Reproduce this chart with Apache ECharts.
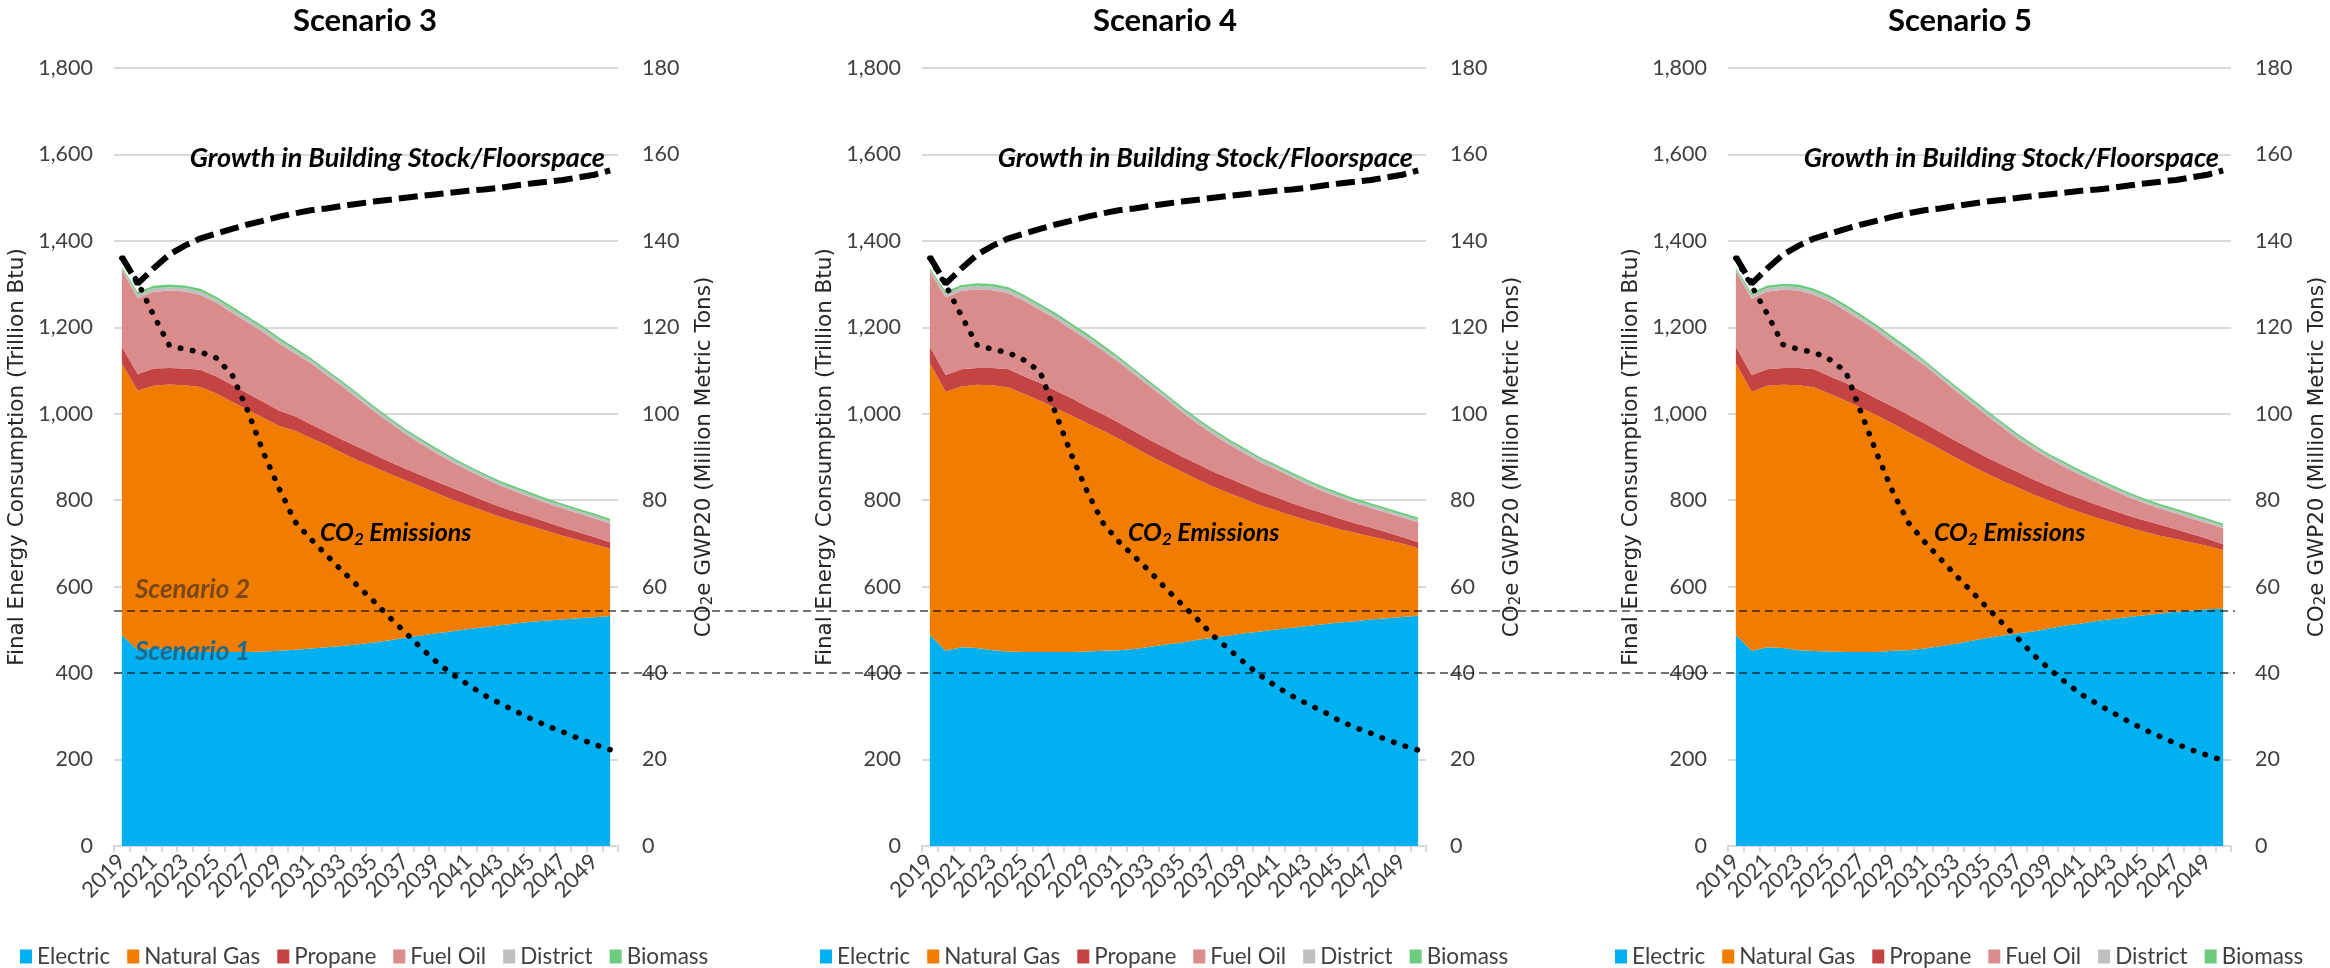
<!DOCTYPE html>
<html>
<head>
<meta charset="utf-8">
<script src="https://cdn.jsdelivr.net/npm/echarts@6/dist/echarts.min.js"></script>
<style>
html,body{margin:0;padding:0;background:#ffffff;}
#c{width:2330px;height:968px;}
</style>
</head>
<body>
<div id="c"></div>
<script>
// ---------- DATA ----------
const years = ['2019','2020','2021','2022','2023','2024','2025','2026','2027','2028','2029','2030','2031','2032','2033','2034','2035','2036','2037','2038','2039','2040','2041','2042','2043','2044','2045','2046','2047','2048','2049','2050'];
const panelTitles = ['Scenario 3', 'Scenario 4', 'Scenario 5'];
const seriesNames = ['Electric', 'Natural Gas', 'Propane', 'Fuel Oil', 'District', 'Biomass'];
const leftAxisTicks = [0, 1800, 200];   // min, max, interval (Trillion Btu)
const rightAxisTicks = [0, 180, 20];    // min, max, interval (Million Metric Tons)
const scenarioLevels = [400, 545];      // Scenario 1, Scenario 2 reference levels
const scenarioLabels = ['Scenario 1', 'Scenario 2'];

// Scenario 3
const electric3   = [488,453,458,455,450,449,449,449,449,450,452,454,457,460,463,467,471,476,482,487,492,497,502,506,511,515,519,522,524,527,529,532];
const naturalGas3 = [629,600,607,613,616,613,598,579,560,540,520,507,487,468,446,425,406,385,364,344,324,304,286,269,251,236,221,207,194,181,169,156];
const propane3    = [38,39,40,38,39,40,39,39,38,37,35,33,32,30,31,31,29,28,27,27,27,27,26,24,23,22,21,20,19,18,17,15];
const fuelOil3    = [178,176,177,179,178,173,171,167,164,161,155,145,141,132,123,112,100,90,80,72,65,59,55,52,49,47,45,44,44,43,43,43];
const district3   = [4,8,8,8,8,8,8,8,8,8,8,8,7,7,7,7,7,7,7,7,7,7,6,6,6,6,6,6,6,6,6,6];
const biomass3    = [3,6,6,6,6,6,6,6,6,6,6,6,5,5,5,5,5,5,5,5,5,5,5,5,5,5,5,5,5,5,5,5];
const co2_3       = [136.0,130.5,122.9,115.9,114.9,114.3,112.9,109.0,100.6,90.9,82.6,75.0,71.0,67.3,63.6,60.1,56.6,52.9,49.4,45.8,42.5,39.7,37.3,34.9,33.0,31.2,29.4,27.8,26.4,24.9,23.5,22.3];

// Scenario 4
const electric4   = [488,452,460,458,453,450,449,449,449,449,450,452,453,456,461,466,471,477,482,487,492,496,501,505,509,513,517,520,524,527,530,533];
const naturalGas4 = [629,599,603,609,613,611,597,581,564,547,528,509,489,466,441,418,395,371,349,329,310,292,275,259,244,230,216,205,192,181,170,156];
const propane4    = [38,39,40,39,40,42,40,41,40,40,38,38,37,37,37,36,35,36,35,35,33,32,31,29,28,27,25,22,21,18,15,14];
const fuelOil4    = [175,179,181,182,180,176,175,169,166,159,155,146,141,132,123,114,103,93,86,78,73,67,64,60,55,50,48,46,45,45,45,46];
const district4   = [4,8,8,8,8,8,8,8,8,8,8,8,7,7,7,7,7,7,7,7,7,7,6,6,6,6,6,6,6,6,6,6];
const biomass4    = [3,6,6,6,6,6,6,6,6,6,6,6,5,5,5,5,5,5,5,5,5,5,5,5,5,5,5,5,5,5,5,5];
const co2_4       = [136.0,129.8,122.7,115.9,114.9,114.1,112.4,109.7,100.0,90.4,81.9,74.7,70.4,66.9,63.4,59.5,55.9,52.4,48.6,45.5,42.3,39.4,36.9,34.7,32.8,31.1,29.0,27.4,26.1,24.6,23.3,22.2];

// Scenario 5
const electric5   = [488,452,460,458,453,451,450,449,449,449,452,453,457,462,468,475,481,487,492,497,504,510,515,521,525,530,534,538,542,545,548,549];
const naturalGas5 = [629,599,605,609,613,610,596,581,564,547,525,504,481,456,430,404,380,357,336,315,294,274,256,238,223,207,193,180,168,157,146,136];
const propane5    = [38,39,38,39,40,42,40,41,40,38,39,40,40,39,39,39,37,37,36,35,33,32,31,30,28,27,26,25,23,20,17,13];
const fuelOil5    = [175,176,180,181,179,172,173,167,162,157,148,141,134,125,115,106,97,86,76,69,63,59,55,51,47,43,40,37,36,36,36,37];
const district5   = [4,8,8,8,8,8,8,8,8,8,8,8,7,7,7,7,7,7,7,7,7,7,6,6,6,6,6,6,6,6,6,6];
const biomass5    = [3,6,6,6,6,6,6,6,6,6,6,6,5,5,5,5,5,5,5,5,5,5,5,5,5,5,5,5,5,5,5,5];
const co2_5       = [136.0,129.6,123.1,116.0,114.9,114.2,112.5,109.7,100.0,90.5,81.8,74.7,70.4,66.5,62.6,58.9,55.1,51.4,47.8,44.0,40.8,37.8,35.0,32.9,30.8,28.8,26.9,25.3,23.7,22.2,21.0,19.8];

// Growth in building stock / floorspace (drawn on the right-hand scale, same in all panels)
const growth = [136.3,130.1,133.6,136.8,138.9,140.6,141.7,142.8,143.8,144.7,145.6,146.4,147.1,147.5,148.1,148.6,149.1,149.5,150.0,150.4,150.8,151.2,151.6,151.9,152.3,152.8,153.3,153.7,154.1,154.7,155.3,156.3];

// ---------- STYLE / LAYOUT ----------
const colors = ['#00B0F0', '#F07D00', '#C44444', '#DA8B8B', '#BFBFBF', '#6DCB7E'];
const panels = [
  {stacks:[electric3,naturalGas3,propane3,fuelOil3,district3,biomass3], co2:co2_3},
  {stacks:[electric4,naturalGas4,propane4,fuelOil4,district4,biomass4], co2:co2_4},
  {stacks:[electric5,naturalGas5,propane5,fuelOil5,district5,biomass5], co2:co2_5}
];
const gridLefts = [114, 922, 1728];
const gridWidth = 504;
const gridTop = 68;
const gridHeight = 778;
const chartCenters = [360, 1160, 1955];
const labelFont = 'Lato';
const labelColor = '#404040';
const nameFont = 'DejaVu Sans';

const grids = [], xAxes = [], yAxes = [], series = [], titles = [], legends = [], graphics = [];

panels.forEach((p, i) => {
  grids.push({left: gridLefts[i], top: gridTop, width: gridWidth, height: gridHeight});
  xAxes.push({
    type: 'category', gridIndex: i, data: years, boundaryGap: true,
    axisLine: {show: true, lineStyle: {color: '#D9D9D9', width: 2}},
    axisTick: {show: true, interval: 0, length: 6, lineStyle: {color: '#D9D9D9', width: 2}},
    axisLabel: {interval: 1, rotate: 45, margin: 12, fontFamily: labelFont, fontSize: 22, color: labelColor}
  });
  yAxes.push({
    type: 'value', gridIndex: i, position: 'left',
    min: leftAxisTicks[0], max: leftAxisTicks[1], interval: leftAxisTicks[2],
    name: 'Final Energy Consumption (Trillion Btu)', nameLocation: 'middle', nameGap: 86,
    nameTextStyle: {fontFamily: nameFont, fontSize: 21.5, color: '#262626'},
    axisLine: {show: false}, axisTick: {show: false},
    splitLine: {show: true, lineStyle: {color: '#D9D9D9', width: 2}},
    axisLabel: {margin: 21, fontFamily: labelFont, fontSize: 21.5, color: labelColor,
      formatter: v => v.toLocaleString('en-US')}
  });
  yAxes.push({
    type: 'value', gridIndex: i, position: 'right',
    min: rightAxisTicks[0], max: rightAxisTicks[1], interval: rightAxisTicks[2],
    name: 'CO{sub|2}e GWP20 (Million Metric Tons)', nameLocation: 'middle', nameGap: 74,
    nameTextStyle: {fontFamily: nameFont, fontSize: 21.5, color: '#262626', lineHeight: 24,
      rich: {sub: {fontFamily: nameFont, fontSize: 15, color: '#262626', lineHeight: 10, verticalAlign: 'bottom'}}},
    axisLine: {show: false}, axisTick: {show: false}, splitLine: {show: false},
    axisLabel: {margin: 24, fontFamily: labelFont, fontSize: 21.5, color: labelColor}
  });

  p.stacks.forEach((arr, k) => {
    series.push({
      type: 'line', name: seriesNames[k], xAxisIndex: i, yAxisIndex: 2 * i,
      stack: 'energy' + i, data: arr, symbol: 'none', silent: true,
      lineStyle: {width: 0}, itemStyle: {color: colors[k]},
      areaStyle: {color: colors[k], opacity: 1}, z: 2
    });
  });
  series.push({
    type: 'line', name: 'CO2 Emissions', xAxisIndex: i, yAxisIndex: 2 * i + 1,
    data: p.co2, symbol: 'none', silent: true, z: 6,
    lineStyle: {color: '#000', width: 5.5, type: [0.5, 11.8], cap: 'round'}
  });
  series.push({
    type: 'line', name: 'Growth in Building Stock/Floorspace', xAxisIndex: i, yAxisIndex: 2 * i + 1,
    data: growth, symbol: 'none', silent: true, z: 6,
    lineStyle: {color: '#000', width: 6, type: [19, 7]}
  });

  titles.push({
    text: panelTitles[i], left: chartCenters[i], top: 0, textAlign: 'center',
    textStyle: {fontFamily: labelFont, fontWeight: 'bold', fontSize: 31, color: '#000'}
  });
  legends.push({
    data: seriesNames, left: chartCenters[i] - 345, top: 940, icon: 'rect',
    itemWidth: 12, itemHeight: 14, itemGap: 17, selectedMode: false,
    textStyle: {fontFamily: labelFont, fontSize: 22.5, color: labelColor}
  });

  const gl = gridLefts[i];
  graphics.push({
    type: 'text', x: gl + 491, y: 158, z: 10,
    style: {text: 'Growth in Building Stock/Floorspace', fontFamily: labelFont, fontStyle: 'italic',
      fontWeight: 'bold', fontSize: 27, fill: '#000', align: 'right', verticalAlign: 'middle'}
  });
  graphics.push({
    type: 'text', x: gl + 206, y: 533, z: 10,
    style: {text: '{a|CO}{b|2}{a| Emissions}', align: 'left', verticalAlign: 'middle',
      rich: {
        a: {fontFamily: labelFont, fontStyle: 'italic', fontWeight: 'bold', fontSize: 25, fill: '#000', lineHeight: 30},
        b: {fontFamily: labelFont, fontStyle: 'italic', fontWeight: 'bold', fontSize: 17, fill: '#000', lineHeight: 12, verticalAlign: 'bottom'}
      }}
  });
});

// overlay grid for the cross-panel scenario reference lines
grids.push({left: gridLefts[0], top: gridTop, width: 2235 - gridLefts[0], height: gridHeight});
xAxes.push({type: 'value', gridIndex: 3, min: 0, max: 1, show: false});
yAxes.push({type: 'value', gridIndex: 3, min: leftAxisTicks[0], max: leftAxisTicks[1], show: false});
series.push({
  type: 'line', name: 'Scenario levels', xAxisIndex: 3, yAxisIndex: 6,
  data: [[0, scenarioLevels[0]]], symbol: 'none', silent: true, z: 5,
  lineStyle: {opacity: 0},
  markLine: {
    silent: true, symbol: 'none', label: {show: false}, animation: false,
    lineStyle: {type: [8, 5], width: 2, color: 'rgba(0,0,0,0.55)'},
    data: scenarioLevels.map(v => ({yAxis: v}))
  }
});

// Scenario labels (first panel)
graphics.push({
  type: 'text', x: 135, y: 590, z: 10,
  style: {text: scenarioLabels[1], fontFamily: labelFont, fontStyle: 'italic', fontWeight: 'bold',
    fontSize: 26, fill: '#7C4716', align: 'left', verticalAlign: 'middle'}
});
graphics.push({
  type: 'text', x: 135, y: 652, z: 10,
  style: {text: scenarioLabels[0], fontFamily: labelFont, fontStyle: 'italic', fontWeight: 'bold',
    fontSize: 26, fill: '#1C6A8E', align: 'left', verticalAlign: 'middle'}
});

const chart = echarts.init(document.getElementById('c'));
chart.setOption({
  animation: false,
  backgroundColor: '#ffffff',
  title: titles,
  legend: legends,
  grid: grids,
  xAxis: xAxes,
  yAxis: yAxes,
  series: series,
  graphic: graphics
});
</script>
</body>
</html>
